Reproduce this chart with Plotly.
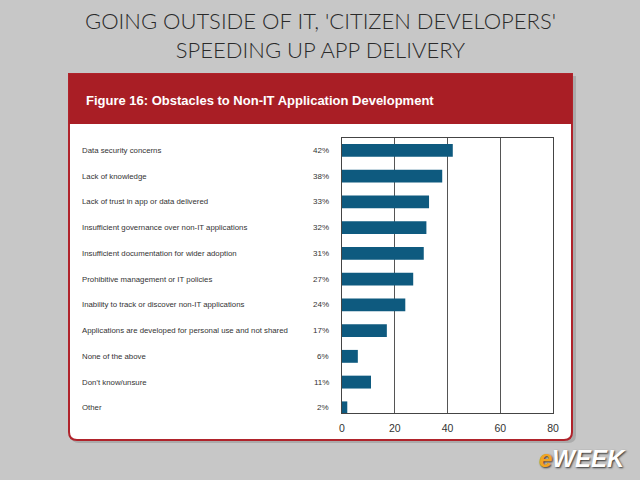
import plotly.graph_objects as go

categories = [
    "Data security concerns",
    "Lack of knowledge",
    "Lack of trust in app or data delivered",
    "Insufficient governance over non-IT applications",
    "Insufficient documentation for wider adoption",
    "Prohibitive management or IT policies",
    "Inability to track or discover non-IT applications",
    "Applications are developed for personal use and not shared",
    "None of the above",
    "Don\u2019t know/unsure",
    "Other",
]
values = [42, 38, 33, 32, 31, 27, 24, 17, 6, 11, 2]
x_ticks = [0, 20, 40, 60, 80]

W, H = 640, 480
ML, MR, MT, MB = 342, 87, 138, 67
PW, PH = W - ML - MR, H - MT - MB


def px(x):
    return (x - ML) / PW


def py(y):
    return (H - MB - y) / PH


fig = go.Figure()
fig.add_trace(go.Bar(
    x=values, y=categories, orientation="h",
    marker=dict(color="#0e5a7f", line=dict(width=0)),
    width=0.5, hoverinfo="x+y",
))

sans = "Liberation Sans, Arial, sans-serif"
ann = []
for c, v in zip(categories, values):
    ann.append(dict(xref="paper", yref="y", x=px(80), y=c, text=c, showarrow=False,
                    xanchor="left", yanchor="middle",
                    font=dict(family=sans, size=7.8, color="#333333")))
    ann.append(dict(xref="paper", yref="y", x=px(331), y=c, text=f"{v}%", showarrow=False,
                    xanchor="right", yanchor="middle",
                    font=dict(family=sans, size=8, color="#333333")))

# Slide title
ann.append(dict(xref="paper", yref="paper", x=px(320), y=py(35), showarrow=False,
                text="GOING OUTSIDE OF IT, 'CITIZEN DEVELOPERS'<br>SPEEDING UP APP DELIVERY",
                xanchor="center", yanchor="middle",
                font=dict(family="Lato, Open Sans, sans-serif", size=22, color="#2a2a2a",
                          weight=300)))
# Figure header
ann.append(dict(xref="paper", yref="paper", x=px(84), y=py(100), showarrow=False,
                text="<b>Figure 16: Obstacles to Non-IT Application Development</b>",
                xanchor="left", yanchor="middle",
                font=dict(family=sans, size=13, color="#ffffff")))
# Logo
ann.append(dict(xref="paper", yref="paper", x=px(582), y=py(458), showarrow=False,
                text="<b><i><span style='color:#f2a422'>e</span>WEEK</i></b>",
                xanchor="center", yanchor="middle",
                font=dict(family=sans, size=24, color="#ffffff",
                          shadow="1px 1px 2px #333333")))


def rounded_rect(x0, y0, x1, y1, r):
    return (f"M {px(x0)},{py(y0)} L {px(x1)},{py(y0)} L {px(x1)},{py(y1 - r)} "
            f"Q {px(x1)},{py(y1)} {px(x1 - r)},{py(y1)} L {px(x0 + r)},{py(y1)} "
            f"Q {px(x0)},{py(y1)} {px(x0)},{py(y1 - r)} Z")


shapes = [
    # shadow
    dict(type="path", xref="paper", yref="paper", layer="below",
         path=rounded_rect(71, 76, 576, 443, 8), fillcolor="#ababab", line=dict(width=0)),
    # card
    dict(type="path", xref="paper", yref="paper", layer="below",
         path=rounded_rect(69, 74, 572, 440, 8), fillcolor="#ffffff",
         line=dict(color="#b0232b", width=2)),
    # red header
    dict(type="rect", xref="paper", yref="paper", layer="below",
         x0=px(69), x1=px(572), y0=py(74), y1=py(124), fillcolor="#a91e25", line=dict(width=0)),
]

fig.update_layout(
    width=W, height=H,
    margin=dict(l=ML, r=MR, t=MT, b=MB),
    paper_bgcolor="#c7c7c7", plot_bgcolor="rgba(0,0,0,0)",
    showlegend=False, bargap=0.5,
    annotations=ann, shapes=shapes,
    xaxis=dict(range=[0, 80], tickvals=x_ticks, ticktext=[str(t) for t in x_ticks],
               showgrid=True, gridcolor="#555555", gridwidth=1,
               showline=True, linecolor="#444444", linewidth=1, mirror=True,
               zeroline=False, ticks="", ticklabelstandoff=5,
               tickfont=dict(family=sans, size=10.5, color="#333333")),
    yaxis=dict(type="category", categoryorder="array", categoryarray=categories,
               range=[10.2, -0.48], showticklabels=False, showgrid=False,
               showline=True, linecolor="#444444", linewidth=1, mirror=True,
               zeroline=False, ticks=""),
)

fig.write_html("out.html")
